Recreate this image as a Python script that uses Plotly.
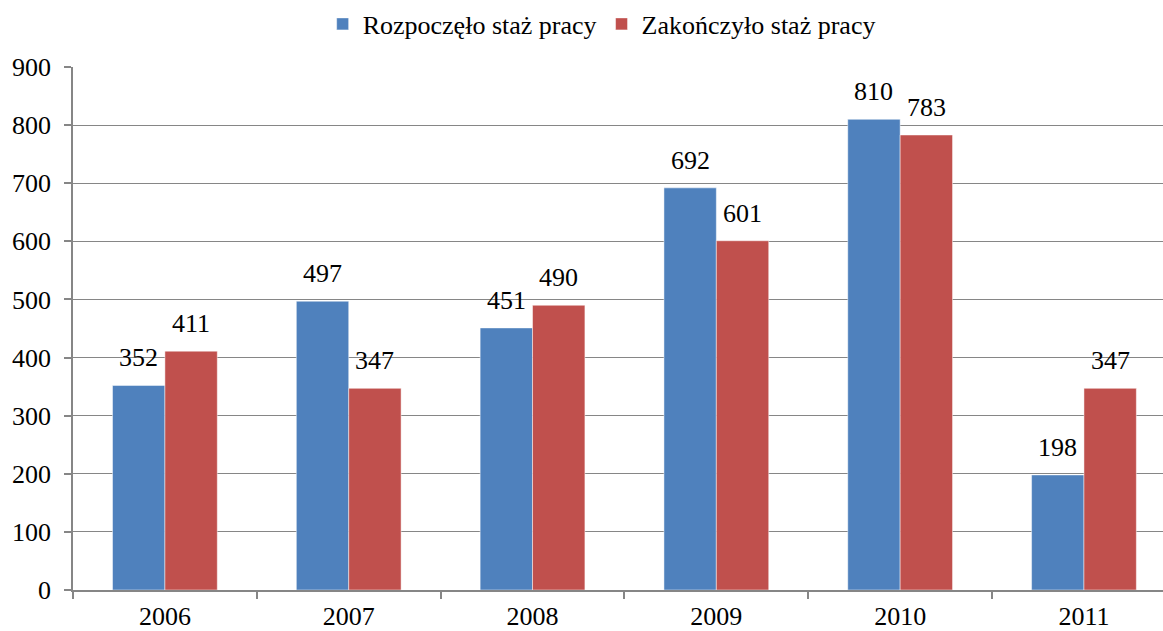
import plotly.graph_objects as go

years = ["2006", "2007", "2008", "2009", "2010", "2011"]
started = [352, 497, 451, 692, 810, 198]
finished = [411, 347, 490, 601, 783, 347]
series_names = ["Rozpoczęło staż pracy", "Zakończyło staż pracy"]
colors = ["#4F81BD", "#C0504D"]

FONT = "Times New Roman"
FS = 26
W, H = 1163, 631
ML, MR, MT, MB = 73, 0, 67, 41
BARGAP = 0.43
XRANGE = [-0.5, 5.43]

fig = go.Figure()
for name, vals, col in zip(series_names, [started, finished], colors):
    fig.add_trace(go.Bar(
        x=years, y=vals, name=name,
        marker=dict(color=col, line=dict(color="rgba(255,255,255,0.6)", width=0.8)),
    ))

cat_px = (W - ML - MR) / (XRANGE[1] - XRANGE[0])
bar_px = cat_px * (1 - BARGAP) / 2
for i, vals in enumerate([started, finished]):
    shift = (i - 0.5) * bar_px
    for j, v in enumerate(vals):
        fig.add_annotation(x=j, y=v, text=str(v), showarrow=False,
                           xshift=shift, yshift=11, yanchor="bottom",
                           font=dict(family=FONT, size=FS, color="black"))

fig.update_layout(
    width=W, height=H,
    margin=dict(l=ML, r=MR, t=MT, b=MB, autoexpand=False),
    paper_bgcolor="white", plot_bgcolor="white",
    barmode="group", bargap=BARGAP, bargroupgap=0,
    font=dict(family=FONT, size=FS, color="black"),
    legend=dict(orientation="h", x=0.485, xanchor="center",
                yref="container", y=0.962, yanchor="middle",
                font=dict(family=FONT, size=FS), tracegroupgap=0),
    showlegend=True,
)
fig.update_xaxes(
    type="category", range=XRANGE,
    showline=True, linecolor="#868686", linewidth=1.5,
    ticks="outside", tickson="boundaries", ticklen=7, tickcolor="#868686", tickwidth=1.5,
    showgrid=False, tickfont=dict(family=FONT, size=FS), ticklabelstandoff=2,
)
fig.update_yaxes(
    range=[0, 900], dtick=100, tick0=0,
    showline=True, linecolor="#868686", linewidth=1.5,
    ticks="outside", ticklen=7, tickcolor="#868686", tickwidth=1.5,
    showgrid=True, gridcolor="#868686", gridwidth=1.2,
    zeroline=False, tickfont=dict(family=FONT, size=FS), ticklabelstandoff=8,
)

fig.write_html("out.html", config={"displayModeBar": False},
               post_script="document.body.style.margin='0';")
